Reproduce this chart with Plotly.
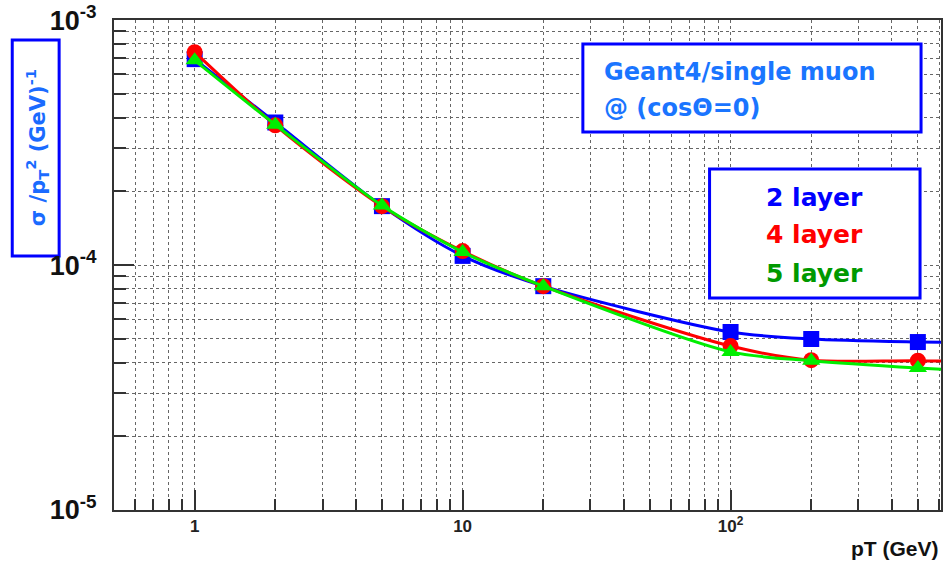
import plotly.graph_objects as go
import math

pt = [1, 2, 5, 10, 20, 100, 200, 500, 1000]
res_2layer = [6.93e-4, 3.82e-4, 1.74e-4, 1.09e-4, 8.2e-5, 5.33e-5, 4.99e-5, 4.85e-5, 4.80e-5]
res_4layer = [7.40e-4, 3.72e-4, 1.74e-4, 1.14e-4, 8.2e-5, 4.67e-5, 4.09e-5, 4.07e-5, 4.00e-5]
res_5layer = [6.85e-4, 3.74e-4, 1.75e-4, 1.13e-4, 8.2e-5, 4.42e-5, 4.07e-5, 3.80e-5, 3.65e-5]

x_tickvals = [1, 10, 100]
x_ticktext = ["1", "10", "10<sup>2</sup>"]
y_tickvals = [1e-5, 1e-4, 1e-3]
y_ticktext = ["10<sup>-5</sup>", "10<sup>-4</sup>", "10<sup>-3</sup>"]

series = [
    ("2 layer", res_2layer, "#0000ff", "square", 16, "#0000ff"),
    ("4 layer", res_4layer, "#ff0000", "circle", 16, "#ff0000"),
    ("5 layer", res_5layer, "#00ee00", "triangle-up", 16, "#009900"),
]

W, H = 943, 569
ml, mr, mt, mb = 114, 0, 20, 59
pw, ph = W - ml - mr, H - mt - mb


def px(x):
    return (x - ml) / pw


def py(y):
    return 1 - (y - mt) / ph


fig = go.Figure()
for name, ys, col, sym, sz, _ in series:
    fig.add_trace(go.Scatter(
        x=pt, y=ys, mode="lines+markers", name=name,
        line=dict(color=col, width=3, shape="spline", smoothing=0.8),
        marker=dict(color=col, symbol=sym, size=sz, line=dict(width=0)),
        showlegend=False, cliponaxis=True))

axis_common = dict(
    type="log", showline=True, linecolor="#333333", linewidth=2, mirror=True,
    ticks="inside", tickcolor="#333333", tickwidth=2, ticklen=20,
    showgrid=True, gridcolor="#666666", griddash="dot", gridwidth=1,
    zeroline=False,
)

fig.update_xaxes(
    **axis_common,
    range=[math.log10(0.5), math.log10(610)],
    tickvals=x_tickvals, ticktext=x_ticktext,
    tickfont=dict(family="Liberation Sans, Arial", size=17, color="#222222", weight="bold"),
    minor=dict(dtick="D1", ticks="inside", ticklen=11, tickcolor="#333333", tickwidth=2,
               showgrid=True, gridcolor="#666666", griddash="dot", gridwidth=1),
)
fig.update_yaxes(
    **axis_common,
    range=[-5, -2.9995],
    tickvals=y_tickvals, ticktext=y_ticktext,
    tickfont=dict(family="Liberation Sans, Arial", size=27, color="#111111", weight="bold"),
    ticklabelstandoff=10,
    minor=dict(dtick="D1", ticks="inside", ticklen=12, tickcolor="#333333", tickwidth=2,
               showgrid=True, gridcolor="#666666", griddash="dot", gridwidth=1),
)

comic = "DejaVu Sans, sans-serif"

annotations = [
    dict(text="pT (GeV)", x=1.0, y=py(548), xref="paper", yref="paper",
         xanchor="right", yanchor="middle", showarrow=False,
         font=dict(family="Liberation Sans, Arial", size=21, color="#111111", weight="bold")),
    dict(text="σ /p<sub>T</sub><sup>2</sup> (GeV)<sup>-1</sup>", x=px(37), y=py(148),
         xref="paper", yref="paper", showarrow=False, textangle=-90,
         xanchor="center", yanchor="middle",
         font=dict(family=comic, size=21, color="#1a6bff", weight="bold")),
    dict(text="Geant4/single muon", x=px(603), y=py(72), xref="paper", yref="paper",
         xanchor="left", yanchor="middle", showarrow=False,
         font=dict(family=comic, size=24, color="#1a75ff", weight="bold")),
    dict(text="@ (cosΘ=0)", x=px(603), y=py(108), xref="paper", yref="paper",
         xanchor="left", yanchor="middle", showarrow=False,
         font=dict(family=comic, size=24, color="#1a75ff", weight="bold")),
]
for (name, _, _, _, _, tcol), yy in zip(series, [197, 235, 273]):
    annotations.append(dict(text=name, x=px(816), y=py(yy), xref="paper", yref="paper",
                            xanchor="center", yanchor="middle", showarrow=False,
                            font=dict(family=comic, size=25, color=tcol, weight="bold")))

shapes = [
    dict(type="rect", xref="paper", yref="paper", x0=px(12), x1=px(59), y0=py(40), y1=py(256),
         line=dict(color="#0000ff", width=3), fillcolor="white", layer="below"),
    dict(type="rect", xref="paper", yref="paper", x0=px(584), x1=px(923), y0=py(44), y1=py(132),
         line=dict(color="#0000ff", width=3), fillcolor="white", layer="above"),
    dict(type="rect", xref="paper", yref="paper", x0=px(711), x1=px(922), y0=py(169), y1=py(298),
         line=dict(color="#0000ff", width=3), fillcolor="white", layer="above"),
]

fig.update_layout(
    width=W, height=H, margin=dict(l=ml, r=mr, t=mt, b=mb),
    paper_bgcolor="white", plot_bgcolor="white",
    annotations=annotations, shapes=shapes, showlegend=False,
)

fig.write_html("out.html")
